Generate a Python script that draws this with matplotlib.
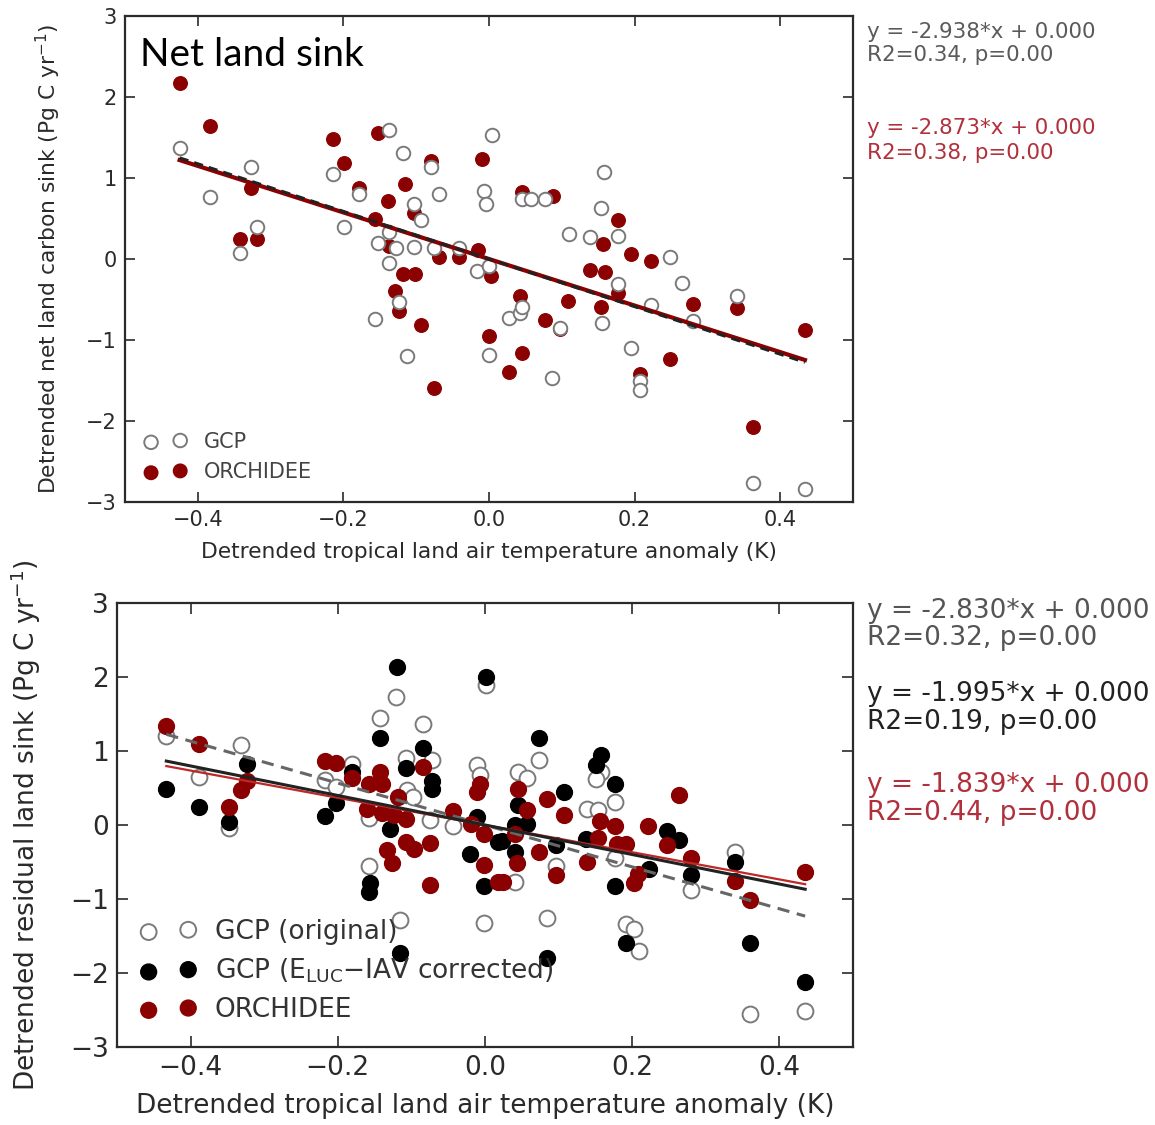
import numpy as np
import matplotlib
matplotlib.use("Agg")
import matplotlib.pyplot as plt
from matplotlib.transforms import Bbox

# ---- net land sink (upper panel) ----
x_gcp_net = [-0.425, -0.383, -0.342, -0.327, -0.318, -0.214, -0.199, -0.178, -0.156, -0.152,
             -0.138, -0.137, -0.138, -0.128, -0.124, -0.118, -0.113, -0.103, -0.103, -0.094,
             -0.079, -0.076, -0.069, -0.041, -0.016, -0.007, -0.004, 0.000, 0.000, 0.004,
             0.028, 0.043, 0.045, 0.046, 0.058, 0.077, 0.087, 0.098, 0.110, 0.139,
             0.154, 0.155, 0.158, 0.177, 0.177, 0.195, 0.207, 0.207, 0.223, 0.248,
             0.265, 0.280, 0.340, 0.362, 0.434]
y_gcp_net = [1.37, 0.76, 0.07, 1.13, 0.39, 1.05, 0.39, 0.80, -0.74, 0.20,
             1.59, 0.33, -0.05, 0.14, -0.53, 1.31, -1.20, 0.68, 0.15, 0.48,
             1.13, 0.14, 0.80, 0.14, -0.15, 0.84, 0.68, -0.09, -1.19, 1.53,
             -0.73, -0.67, -0.59, 0.74, 0.74, 0.74, -1.47, -0.85, 0.31, 0.27,
             0.63, -0.79, 1.07, 0.28, -0.31, -1.10, -1.51, -1.62, -0.57, 0.02,
             -0.30, -0.77, -0.46, -2.76, -2.84]

x_orc_net = [-0.425, -0.383, -0.342, -0.327, -0.318, -0.214, -0.199, -0.178, -0.156, -0.153,
             -0.139, -0.138, -0.129, -0.124, -0.118, -0.115, -0.103, -0.102, -0.094, -0.079,
             -0.075, -0.069, -0.041, -0.015, -0.009, 0.003, 0.000, 0.028, 0.043, 0.045,
             0.046, 0.077, 0.088, 0.098, 0.109, 0.139, 0.157, 0.154, 0.159, 0.177,
             0.177, 0.195, 0.207, 0.223, 0.248, 0.280, 0.340, 0.362, 0.434]
y_orc_net = [2.17, 1.64, 0.25, 0.88, 0.25, 1.48, 1.18, 0.88, 0.50, 1.55,
             0.72, 0.16, -0.40, -0.64, -0.19, 0.93, 0.57, -0.18, -0.81, 1.21,
             -1.59, 0.02, 0.02, 0.11, 1.24, -0.21, -0.95, -1.39, -0.46, -1.16,
             0.83, -0.75, 0.78, -0.87, -0.52, -0.14, 0.19, -0.59, -0.16, 0.48,
             -0.42, 0.06, -1.42, -0.02, -1.24, -0.56, -0.60, -2.07, -0.88]

slope_gcp_net = -2.938
slope_orc_net = -2.873
stats_net = ["y = -2.938*x + 0.000", "R2=0.34, p=0.00",
             "y = -2.873*x + 0.000", "R2=0.38, p=0.00"]

# ---- residual land sink (lower panel) ----
x_gcp_orig = [-0.433, -0.389, -0.348, -0.331, -0.217, -0.203, -0.181, -0.142, -0.121, -0.084,
              -0.108, -0.072, -0.106, -0.098, -0.157, -0.075, -0.043, -0.011, -0.007, 0.001,
              -0.158, -0.115, -0.001, 0.074, 0.045, 0.057, 0.138, 0.154, 0.158, 0.151,
              0.176, 0.096, 0.041, 0.084, 0.176, 0.192, 0.202, 0.209, 0.280, 0.339,
              0.360, 0.435]
y_gcp_orig = [1.20, 0.65, -0.04, 1.08, 0.61, 0.52, 0.83, 1.44, 1.73, 1.37,
              0.90, 0.88, 0.47, 0.38, 0.09, 0.07, -0.01, 0.81, 0.68, 1.89,
              -0.55, -1.28, -1.32, 0.88, 0.72, 0.63, 0.21, 0.20, 0.72, 0.62,
              0.31, -0.56, -0.77, -1.26, -0.45, -1.34, -1.40, -1.70, -0.88, -0.37,
              -2.55, -2.51]

x_gcp_corr = [-0.433, -0.389, -0.348, -0.323, -0.218, -0.203, -0.181, -0.142, -0.120, -0.084,
              -0.107, -0.072, -0.072, -0.129, -0.011, 0.001, -0.156, -0.158, -0.116, -0.020,
              -0.001, 0.018, 0.074, 0.045, 0.108, 0.157, 0.151, 0.176, 0.247, 0.264,
              0.057, 0.041, 0.023, 0.041, 0.097, 0.084, 0.137, 0.176, 0.223, 0.192,
              0.280, 0.339, 0.360, 0.435]
y_gcp_corr = [0.48, 0.25, 0.04, 0.83, 0.12, 0.30, 0.72, 1.17, 2.13, 1.04,
              0.77, 0.59, 0.48, -0.05, 0.11, 2.00, -0.79, -0.90, -1.73, -0.39,
              -0.83, -0.23, 1.17, 0.27, 0.44, 0.95, 0.81, 0.55, -0.08, -0.20,
              0.01, 0.00, -0.21, -0.37, -0.27, -1.80, -0.19, -0.83, -0.60, -1.60,
              -0.68, -0.50, -1.60, -2.12]

x_orc_res = [-0.433, -0.389, -0.348, -0.324, -0.332, -0.218, -0.202, -0.181, -0.158, -0.142,
             -0.140, -0.084, -0.118, -0.160, -0.140, -0.124, -0.108, -0.043, -0.019, -0.007,
             -0.011, -0.002, -0.133, -0.127, -0.108, -0.097, -0.075, -0.075, -0.001, 0.018,
             0.045, 0.057, 0.084, 0.108, 0.264, 0.156, 0.176, 0.221, 0.041, 0.043,
             0.074, 0.096, 0.025, 0.138, 0.154, 0.179, 0.192, 0.208, 0.202, 0.247,
             0.280, 0.339, 0.360, 0.435]
y_orc_res = [1.34, 1.09, 0.25, 0.59, 0.47, 0.86, 0.84, 0.63, 0.55, 0.71,
             0.55, 0.79, 0.38, 0.22, 0.16, 0.14, 0.08, 0.19, 0.02, 0.56,
             0.45, -0.12, -0.34, -0.52, -0.23, -0.33, -0.24, -0.81, -0.54, -0.77,
             0.48, 0.20, 0.35, 0.14, 0.41, 0.06, -0.01, -0.01, -0.12, -0.52,
             -0.37, -0.68, -0.77, -0.50, -0.18, -0.25, -0.26, -0.66, -0.79, -0.27,
             -0.45, -0.75, -1.01, -0.63]

slope_gcp_orig = -2.830
slope_gcp_corr = -1.995
slope_orc_res = -1.839
stats_res = ["y = -2.830*x + 0.000", "R2=0.32, p=0.00",
             "y = -1.995*x + 0.000", "R2=0.19, p=0.00",
             "y = -1.839*x + 0.000", "R2=0.44, p=0.00"]

xlabel = "Detrended tropical land air temperature anomaly (K)"

DARKRED = "#8b0000"
TXTRED = "#b0303c"
GREY = "#7a7a7a"
INK = "#2a2a2a"

W, H = 1155, 1125
fig = plt.figure(figsize=(W / 100, H / 100), dpi=100)


def px_axes(l, t, r, b):
    return fig.add_axes([l / W, 1 - b / H, (r - l) / W, (b - t) / H])


def style_axes(ax, fs, ticklen):
    ax.set_xlim(-0.5, 0.5)
    ax.set_ylim(-3, 3)
    ax.set_xticks([-0.4, -0.2, 0.0, 0.2, 0.4])
    ax.set_yticks([-3, -2, -1, 0, 1, 2, 3])
    ax.xaxis.set_major_formatter(plt.FuncFormatter(lambda v, p: f"{v:.1f}".replace("-", "\u2212")))
    ax.yaxis.set_major_formatter(plt.FuncFormatter(lambda v, p: f"{v:.0f}".replace("-", "\u2212")))
    ax.tick_params(direction="in", top=True, right=True, length=ticklen, width=1.2,
                   colors=INK, labelsize=fs, pad=6)
    for s in ax.spines.values():
        s.set_linewidth(1.6)
        s.set_color(INK)


def fit_line(ax, xs, slope, **kw):
    xx = np.array([min(xs), max(xs)])
    ax.plot(xx, slope * xx, **kw)


# upper panel
ax1 = px_axes(125, 16, 853, 502)
style_axes(ax1, 15, 7)
h_orc = ax1.scatter(x_orc_net, y_orc_net, s=95, c=DARKRED, edgecolors=DARKRED, linewidths=1, zorder=2)
h_gcp = ax1.scatter(x_gcp_net, y_gcp_net, s=95, facecolors="white", edgecolors=GREY, linewidths=1.4, zorder=3)
fit_line(ax1, x_orc_net, slope_orc_net, color=DARKRED, lw=3, zorder=4)
fit_line(ax1, x_gcp_net, slope_gcp_net, color="#222222", lw=2.2, ls=(0, (3, 2)), zorder=5)
ax1.set_xlabel(xlabel, fontsize=15.7, color=INK)
ax1.set_ylabel("Detrended net land carbon sink (Pg C yr$^{-1}$)", fontsize=15.7, color=INK)
ax1.xaxis.set_label_coords(0.5, -0.083)
ax1.yaxis.set_label_coords(-0.085, 0.5)
ax1.text(0.02, 0.897, "Net land sink", transform=ax1.transAxes, fontsize=28,
         family="Lato", va="baseline", ha="left", color="black")
leg1 = ax1.legend([h_gcp, h_orc], ["GCP", "ORCHIDEE"], loc="lower left", scatterpoints=2,
                  frameon=False, fontsize=15, handletextpad=0.85, borderaxespad=0.55,
                  labelspacing=0.5, handlelength=2.0)
for t in leg1.get_texts():
    t.set_color("#444444")

# lower panel
ax2 = px_axes(117, 603, 853, 1047)
style_axes(ax2, 19, 8)
g1 = ax2.scatter(x_gcp_orig, y_gcp_orig, s=130, facecolors="white", edgecolors=GREY, linewidths=1.4, zorder=2)
g2 = ax2.scatter(x_gcp_corr, y_gcp_corr, s=130, c="black", edgecolors="black", zorder=3)
g3 = ax2.scatter(x_orc_res, y_orc_res, s=130, c=DARKRED, edgecolors=DARKRED, zorder=4)
fit_line(ax2, x_gcp_orig, slope_gcp_orig, color="#666666", lw=2.2, ls=(0, (4, 2.5)), zorder=5)
fit_line(ax2, x_orc_res, slope_orc_res, color="#c02828", lw=1.6, zorder=5)
fit_line(ax2, x_gcp_corr, slope_gcp_corr, color="#222222", lw=2.2, zorder=6)
ax2.set_xlabel(xlabel, fontsize=19, color=INK)
ylab2 = ax2.set_ylabel("Detrended residual land sink (Pg C yr$^{-1}$)", fontsize=19, color=INK)
ax2.xaxis.set_label_coords(0.5, -0.104)
ax2.yaxis.set_label_coords(-0.1, 0.5)
ylab2.set_clip_box(Bbox.from_extents(0, 0, W, H - 562))
ylab2.set_clip_on(True)
leg2 = ax2.legend([g1, g2, g3],
                  ["GCP (original)", "GCP (E$_{\\mathrm{LUC}}$\u2212IAV corrected)", "ORCHIDEE"],
                  loc="lower left", scatterpoints=2, frameon=False, fontsize=19,
                  handletextpad=0.7, borderaxespad=0.5, labelspacing=0.45, handlelength=2.1)
for t in leg2.get_texts():
    t.set_color("#333333")

# regression summaries beside the panels
net_colors = ["#5a5a5a", "#5a5a5a", TXTRED, TXTRED]
net_rows = [32, 55, 128, 153]
for s, c, yy in zip(stats_net, net_colors, net_rows):
    fig.text(867 / W, 1 - yy / H, s, fontsize=15.4, color=c, va="center", ha="left")

res_colors = ["#555555", "#555555", "#222222", "#222222", TXTRED, TXTRED]
res_rows = [611, 638, 694, 722, 785, 813]
for s, c, yy in zip(stats_res, res_colors, res_rows):
    fig.text(867 / W, 1 - yy / H, s, fontsize=19, color=c, va="center", ha="left")

fig.savefig("out.png", dpi=100, facecolor="white")
